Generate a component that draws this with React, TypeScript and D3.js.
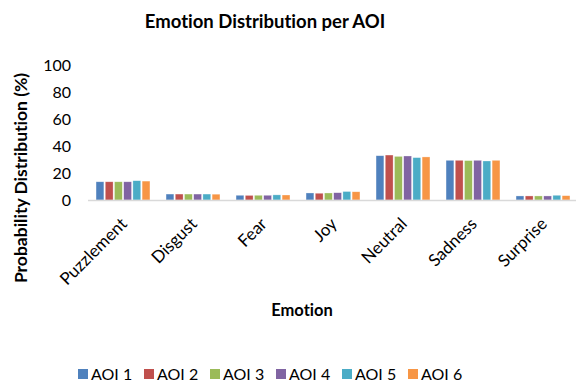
import React from "react";
import * as d3 from "d3";

const categories = ["Puzzlement", "Disgust", "Fear", "Joy", "Neutral", "Sadness", "Surprise"];
const seriesNames = ["AOI 1", "AOI 2", "AOI 3", "AOI 4", "AOI 5", "AOI 6"];
const aoi1 = [13.5, 4.4, 3.5, 5.2, 32.8, 29.4, 3.0];
const aoi2 = [13.5, 4.4, 3.4, 5.0, 33.3, 29.4, 3.0];
const aoi3 = [13.5, 4.4, 3.5, 5.2, 32.3, 29.2, 3.0];
const aoi4 = [13.5, 4.4, 3.5, 5.4, 32.6, 29.4, 3.0];
const aoi5 = [14.3, 4.4, 3.8, 6.3, 31.4, 28.9, 3.5];
const aoi6 = [14.0, 4.3, 3.7, 6.1, 31.9, 29.4, 3.2];
const yTicks = [0, 20, 40, 60, 80, 100];
const colors = ["#4F81BD", "#C0504D", "#9BBB59", "#8064A2", "#4BACC6", "#F79646"];

const series = [aoi1, aoi2, aoi3, aoi4, aoi5, aoi6];
const FONT = "Lato, 'Open Sans', sans-serif";
const noLig: React.CSSProperties = { fontVariantLigatures: "none", fontFeatureSettings: "'liga' 0" };

export default function App() {
  const W = 576, H = 382;
  const x0 = d3.scaleBand<string>().domain(categories).range([88, 578]).paddingInner(0.23).paddingOuter(0.115);
  const x1 = d3.scaleBand<string>().domain(seriesNames).range([0, x0.bandwidth()]).paddingInner(0.15);
  const y = d3.scaleLinear().domain([0, 100]).range([200, 65]);

  return (
    <svg width={W} height={H} style={{ position: "absolute", left: 0, top: 0, background: "#fff" }}>
      <text x={265} y={28} textAnchor="middle" fontFamily={FONT} fontWeight="bold" fontSize={18.5} fill="#000" style={noLig}>
        Emotion Distribution per AOI
      </text>
      {yTicks.map((t) => (
        <text key={t} x={71} y={y(t)} dy="0.35em" textAnchor="end" fontFamily={FONT} fontSize={16} fill="#000">
          {t}
        </text>
      ))}
      {categories.map((c, ci) => (
        <g key={c}>
          {series.map((s, si) => (
            <rect
              key={si}
              x={(x0(c) as number) + (x1(seriesNames[si]) as number)}
              y={y(s[ci])}
              width={x1.bandwidth()}
              height={y(0) - y(s[ci])}
              fill={colors[si]}
              stroke="#ffffff"
              strokeOpacity={0.5}
              strokeWidth={0.6}
            />
          ))}
        </g>
      ))}
      <line x1={88} x2={576} y1={y(0) + 0.5} y2={y(0) + 0.5} stroke="#D9D9D9" strokeWidth={1.5} />
      {categories.map((c) => {
        const cx = (x0(c) as number) + x0.bandwidth() / 2 + 5;
        return (
          <g key={c} transform={`translate(${cx},${225})`}>
            <text transform="rotate(-45)" textAnchor="end" fontFamily={FONT} fontSize={17} fill="#000" style={noLig}>
              {c}
            </text>
          </g>
        );
      })}
      <text x={302} y={316} textAnchor="middle" fontFamily={FONT} fontWeight="bold" fontSize={16.5} fill="#000" style={noLig}>
        Emotion
      </text>
      <text transform={`translate(27,178) rotate(-90)`} textAnchor="middle" fontFamily={FONT} fontWeight="bold" fontSize={17.5} fill="#000" style={noLig}>
        Probability Distribution (%)
      </text>
      {seriesNames.map((n, i) => {
        const lx = 78 + i * 66;
        return (
          <g key={n}>
            <rect x={lx} y={369} width={10} height={10} fill={colors[i]} />
            <text x={lx + 13} y={374} dy="0.35em" fontFamily={FONT} fontSize={16} fill="#000">
              {n}
            </text>
          </g>
        );
      })}
    </svg>
  );
}
